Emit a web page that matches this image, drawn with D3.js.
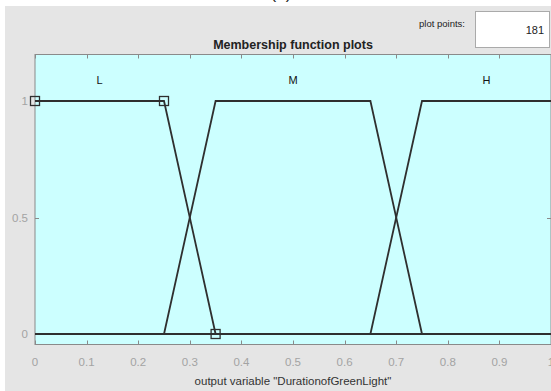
<!DOCTYPE html>
<html>
<head>
<meta charset="utf-8">
<script src="https://cdn.jsdelivr.net/npm/d3@7/dist/d3.min.js"></script>
<style>
  html, body { margin: 0; padding: 0; background: #ffffff; }
  svg { display: block; font-family: "Liberation Sans", Arial, Helvetica, sans-serif; }
</style>
</head>
<body>
<svg id="chart" width="551" height="391"></svg>
<script>
// Membership functions of the output variable (trapezoids: a, b, c, d)
const mfNames  = ["L", "M", "H"];
const mfParams = [
  [0, 0, 0.25, 0.35],
  [0.25, 0.35, 0.65, 0.75],
  [0.65, 0.75, 1, 1]
];
const labelPos = [0.125, 0.5, 0.875];
const selectedMf = 0;            // L is the highlighted function (square handles)
const xTicks = [0, 0.1, 0.2, 0.3, 0.4, 0.5, 0.6, 0.7, 0.8, 0.9, 1];
const yTicks = [0, 0.5, 1];
const plotPoints = 181;
const variableName = "DurationofGreenLight";

const svg = d3.select("#chart");

// panel background
svg.append("rect").attr("x", 5).attr("y", 6).attr("width", 546).attr("height", 385)
  .attr("fill", "#e5e5e5");

// figure caption, mostly cut off at the top
svg.append("text").attr("x", 281).attr("y", -1).attr("text-anchor", "middle")
  .attr("font-size", 17).attr("fill", "#222").text("(b)");

const x = d3.scaleLinear().domain([0, 1]).range([35, 551]);
const y = d3.scaleLinear().domain([0, 1]).range([334, 101]);
const yTop = 54.5, yBottom = 344.5;

// plot area
svg.append("rect").attr("x", x(0)).attr("y", yTop)
  .attr("width", x(1) - x(0)).attr("height", yBottom - yTop)
  .attr("fill", "#ccffff").attr("stroke", "#8a8a8a").attr("stroke-width", 1);

// inward ticks on all four sides
const tickG = svg.append("g").attr("stroke", "#8a8a8a").attr("stroke-width", 1);
xTicks.forEach(t => {
  const px = Math.round(x(t)) + 0.5;
  tickG.append("line").attr("x1", px).attr("x2", px).attr("y1", yBottom).attr("y2", yBottom - 4);
  tickG.append("line").attr("x1", px).attr("x2", px).attr("y1", yTop).attr("y2", yTop + 4);
});
yTicks.forEach(t => {
  const py = Math.round(y(t)) + 0.5;
  tickG.append("line").attr("x1", x(0)).attr("x2", x(0) + 4).attr("y1", py).attr("y2", py);
  tickG.append("line").attr("x1", x(1)).attr("x2", x(1) - 4).attr("y1", py).attr("y2", py);
});

// tick labels
svg.append("g").selectAll("text").data(xTicks).join("text")
  .attr("x", d => x(d)).attr("y", 366).attr("text-anchor", "middle")
  .attr("font-size", 11.5).attr("fill", "#a3a3a3").text(d => d3.format("~g")(d));
svg.append("g").selectAll("text").data(yTicks).join("text")
  .attr("x", 28).attr("y", d => y(d) + 4).attr("text-anchor", "end")
  .attr("font-size", 11.5).attr("fill", "#a3a3a3").text(d => d3.format("~g")(d));

// membership function curves over the whole range
const line = d3.line().x(d => x(d[0])).y(d => y(d[1]));
mfParams.forEach(p => {
  const pts = [[0, p[0] === p[1] && p[0] === 0 ? 1 : 0]];
  if (!(p[0] === 0 && p[1] === 0)) { pts.push([p[0], 0]); }
  pts.push([p[1], 1], [p[2], 1]);
  if (!(p[2] === 1 && p[3] === 1)) { pts.push([p[3], 0], [1, 0]); }
  svg.append("path").attr("d", line(pts)).attr("fill", "none")
    .attr("stroke", "#2f2f2f").attr("stroke-width", 1.8).attr("stroke-linejoin", "miter");
});

// square handles on the selected function
const sp = mfParams[selectedMf];
const handles = [[sp[0], 1], [sp[2], 1], [sp[3], 0]];
svg.append("g").selectAll("rect").data(handles).join("rect")
  .attr("x", d => x(d[0]) - 4.5).attr("y", d => y(d[1]) - 4.5)
  .attr("width", 9).attr("height", 9)
  .attr("fill", "none").attr("stroke", "#2f2f2f").attr("stroke-width", 1.3);

// function names
svg.append("g").selectAll("text").data(mfNames).join("text")
  .attr("x", (d, i) => x(labelPos[i])).attr("y", 84).attr("text-anchor", "middle")
  .attr("font-size", 11).attr("fill", "#111").text(d => d);

// title
svg.append("text").attr("x", 293).attr("y", 49).attr("text-anchor", "middle")
  .attr("font-size", 12.5).attr("font-weight", "bold").attr("fill", "#222")
  .text("Membership function plots");

// axis title
svg.append("text").attr("x", 293).attr("y", 385).attr("text-anchor", "middle")
  .attr("font-size", 11.5).attr("fill", "#333")
  .text(`output variable "${variableName}"`);

// plot points control
svg.append("text").attr("x", 465).attr("y", 27).attr("text-anchor", "end")
  .attr("font-size", 9.5).attr("fill", "#222").text("plot points:");
svg.append("rect").attr("x", 475.5).attr("y", 11.5).attr("width", 74).attr("height", 36)
  .attr("fill", "#ffffff").attr("stroke", "#aaaaaa").attr("stroke-width", 1);
svg.append("text").attr("x", 544).attr("y", 34).attr("text-anchor", "end")
  .attr("font-size", 11).attr("fill", "#222").text(plotPoints);
</script>
</body>
</html>
